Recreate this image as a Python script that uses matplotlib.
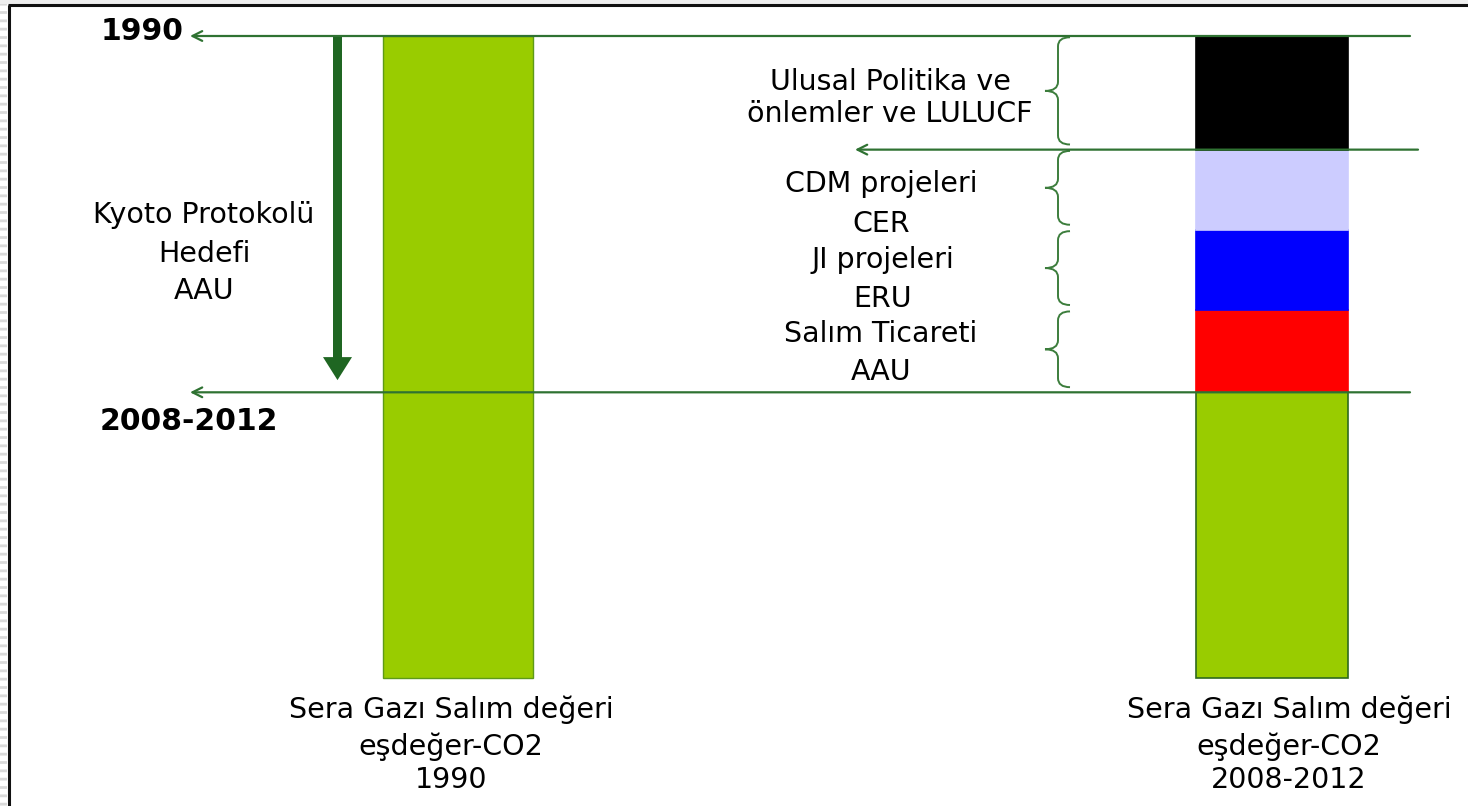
import matplotlib
matplotlib.use("Agg")
import matplotlib.pyplot as plt
from matplotlib.patches import Rectangle, PathPatch, FancyArrow
from matplotlib.path import Path

# ---------------- data ----------------
categories = ["1990", "2008-2012"]
emission_1990 = 100.0          # total emissions in 1990 (relative units)
kyoto_target = 44.5            # Kyoto target level (AAU) for 2008-2012
segment_names = ["Sera gazı salımı", "Salım Ticareti AAU", "JI projeleri ERU",
                 "CDM projeleri CER", "Ulusal Politika ve önlemler ve LULUCF"]
segment_values = [44.5, 12.8, 12.5, 12.5, 17.7]
segment_colors = ["#99CC00", "#FF0000", "#0000FF", "#CCCCFF", "#000000"]
bar_labels = [["Sera Gazı Salım değeri", "eşdeğer-CO2", "1990"],
              ["Sera Gazı Salım değeri", "eşdeğer-CO2", "2008-2012"]]
kyoto_label = ["Kyoto Protokolü", "Hedefi", "AAU"]
brace_labels = [["Salım Ticareti", "AAU"], ["JI projeleri", "ERU"],
                ["CDM projeleri", "CER"], ["Ulusal Politika ve", "önlemler ve LULUCF"]]

# ---------------- layout ----------------
W, H = 1468, 806
fig = plt.figure(figsize=(W / 100, H / 100), dpi=100)
ax = fig.add_axes([0, 0, 1, 1])
PX_PER_UNIT = 6.42
BASE_PX = 678
def V(ypx):
    return (BASE_PX - ypx) / PX_PER_UNIT
ax.set_xlim(0, W)
ax.set_ylim(V(H), V(0))
ax.axis("off")

GREEN_LINE = "#2F7232"
DARK_GREEN = "#1F6622"
FONT = "DejaVu Sans"

bar_x = [458, 1272]
bar_w = [150, 152]

# left bar (1990)
ax.bar(bar_x[0], emission_1990, width=bar_w[0], bottom=0, color="#99CC00",
       edgecolor="#5E9A18", linewidth=1, zorder=2)

# right stacked bar (2008-2012)
bottom = 0.0
for val, col in zip(segment_values, segment_colors):
    ec = "#2F6A1E" if col == "#99CC00" else col
    ax.bar(bar_x[1], val, width=bar_w[1], bottom=bottom, color=col,
           edgecolor=ec, linewidth=1.2, zorder=2)
    bottom += val

# horizontal level lines with open arrowheads pointing left
def level_line(x_from, x_to, yv):
    ax.annotate("", xy=(x_to, yv), xytext=(x_from, yv),
                arrowprops=dict(arrowstyle="->,head_length=0.7,head_width=0.35",
                                color=GREEN_LINE, lw=1.6, shrinkA=0, shrinkB=0),
                zorder=4)

level_line(1410, 190, emission_1990)
level_line(1410, 190, kyoto_target)
national_level = emission_1990 - segment_values[-1]
level_line(1418, 855, national_level)

# thick Kyoto arrow
tip_v = kyoto_target + 1.9
head_len = 23 / PX_PER_UNIT
ax.add_patch(FancyArrow(337.5, emission_1990, 0, -(emission_1990 - tip_v),
                        width=9, head_width=29, head_length=head_len,
                        length_includes_head=True, color=DARK_GREEN,
                        linewidth=0, zorder=3))

# curly braces
def brace(y_top_v, y_bot_v, x_tip=1045, x_stem=1058, x_end=1070, r=9):
    yt = BASE_PX - y_top_v * PX_PER_UNIT
    yb = BASE_PX - y_bot_v * PX_PER_UNIT
    ym = (yt + yb) / 2
    pts = [(x_end, yt), (x_stem, yt), (x_stem, yt + r),
           (x_stem, ym - r),
           (x_stem, ym), (x_tip, ym),
           (x_stem, ym), (x_stem, ym + r),
           (x_stem, yb - r),
           (x_stem, yb), (x_end, yb)]
    codes = [Path.MOVETO, Path.CURVE3, Path.CURVE3, Path.LINETO,
             Path.CURVE3, Path.CURVE3, Path.CURVE3, Path.CURVE3,
             Path.LINETO, Path.CURVE3, Path.CURVE3]
    pts = [(x, V(y)) for x, y in pts]
    ax.add_patch(PathPatch(Path(pts, codes), fill=False, edgecolor="#3C7D3C",
                           lw=1.4, zorder=3))

cum = segment_values[0]
for val in segment_values[1:]:
    brace(cum + val - 0.2, cum + 0.8)
    cum += val

# ---------------- text ----------------
def lines(xc, baselines_px, texts, size, weight="normal", ha="center"):
    for b, t in zip(baselines_px, texts):
        ax.text(xc, V(b), t, ha=ha, va="baseline", fontsize=size,
                fontweight=weight, family=FONT, color="black", zorder=5)

lines(183, [40], ["1990"], 21.5, "bold", ha="right")
lines(100, [430], ["2008-2012"], 21.5, "bold", ha="left")
lines(204, [223, 262, 299], kyoto_label, 20.5)

label_pos = [(881, [342, 380]), (883, [268, 307]), (881, [192, 232]), (890, [90, 122])]
for (xc, bl), txt in zip(label_pos, brace_labels):
    lines(xc, bl, txt, 20.5)

lines(451, [718, 755, 788], bar_labels[0], 20.5)
lines(1289, [718, 755, 788], bar_labels[1], 20.5)

# ---------------- frame ----------------
plt.rcParams["hatch.linewidth"] = 2.0
ax.add_patch(Rectangle((0, V(H)), 7, V(0) - V(H), facecolor="white",
                       edgecolor="#d9d9d9", hatch="--", linewidth=0, zorder=1))
ax.add_patch(Rectangle((0, V(4)), W, V(0) - V(4), facecolor="#eeeeee",
                       linewidth=0, zorder=1))
ax.plot([8.5, 8.5], [V(5), V(H)], color="#111111", lw=2.2, zorder=6,
        solid_capstyle="butt")
ax.plot([8, W], [V(5), V(5)], color="#111111", lw=2.2, zorder=6,
        solid_capstyle="butt")

fig.savefig("out.png", dpi=100)
